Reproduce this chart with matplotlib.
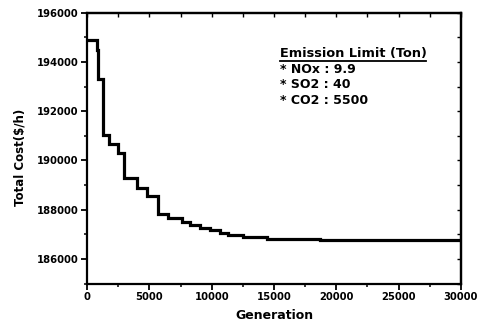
import matplotlib
matplotlib.use("Agg")
import matplotlib.pyplot as plt
from matplotlib.ticker import MultipleLocator

# Data (generation, total cost held from that generation on)
generation = [0, 780, 880, 1243, 1764, 2486, 2967, 4010, 4812, 5694, 6496, 7619,
              8260, 9063, 9865, 10667, 11308, 12511, 14436, 15719, 18687, 22456, 30000]
total_cost = [194900, 194500, 193300, 191020, 190650, 190300, 189300, 188870, 188550,
              187820, 187660, 187500, 187380, 187255, 187175, 187070, 186970, 186890,
              186810, 186790, 186770, 186750, 186750]

x_ticks = [0, 5000, 10000, 15000, 20000, 25000, 30000]
y_ticks = [186000, 188000, 190000, 192000, 194000, 196000]
legend_title = "Emission Limit (Ton)"
legend_lines = ["* NOx : 9.9", "* SO2 : 40", "* CO2 : 5500"]

plt.rcParams['font.family'] = ['DejaVu Sans']
plt.rcParams['font.weight'] = 'bold'

fig = plt.figure(figsize=(4.81, 3.24), dpi=100)
ax = fig.add_axes([0.1809, 0.125, 0.9584 - 0.1809, 0.961 - 0.125])

ax.plot(generation, total_cost, drawstyle='steps-post', color='black', lw=2.3,
        solid_joinstyle='miter')

ax.set_xlim(0, 30000)
ax.set_ylim(185000, 196000)
ax.set_xticks(x_ticks)
ax.set_yticks(y_ticks)
ax.xaxis.set_minor_locator(MultipleLocator(2500))
ax.yaxis.set_minor_locator(MultipleLocator(1000))
ax.set_xticklabels([str(v) for v in x_ticks], fontsize=7.2, fontweight='bold')
ax.set_yticklabels([str(v) for v in y_ticks], fontsize=7.2, fontweight='bold')

for s in ax.spines.values():
    s.set_linewidth(1.6)
ax.tick_params(which='major', direction='out', length=4, width=1.3, pad=2)
ax.tick_params(which='minor', direction='out', length=2.5, width=1.1)

secx = ax.secondary_xaxis('top')
secx.set_xticks(x_ticks)
secx.xaxis.set_minor_locator(MultipleLocator(2500))
secx.tick_params(which='both', direction='in', labeltop=False, length=3, width=1.0)
secx.spines['top'].set_linewidth(1.6)
secy = ax.secondary_yaxis('right')
secy.set_yticks(y_ticks)
secy.yaxis.set_minor_locator(MultipleLocator(1000))
secy.tick_params(which='both', direction='in', labelright=False, length=3, width=1.0)
secy.spines['right'].set_linewidth(1.6)

ax.set_xlabel("Generation", fontsize=9, fontweight='bold', labelpad=5)
ax.set_ylabel("Total Cost($/h)", fontsize=8.5, fontweight='bold')
ax.yaxis.set_label_coords(-0.163, 0.464)

t = ax.text(0.515, 0.835, legend_title, transform=ax.transAxes, fontsize=9.3,
            fontweight='bold', va='baseline', ha='left')
fig.canvas.draw()
bb = t.get_window_extent().transformed(ax.transAxes.inverted())
ax.plot([bb.x0, bb.x1], [bb.y0 - 0.004, bb.y0 - 0.004], transform=ax.transAxes,
        color='black', lw=1.3, clip_on=False)
for i, line in enumerate(legend_lines):
    ax.text(0.515, 0.778 - i * 0.058, line, transform=ax.transAxes, fontsize=9,
            fontweight='bold', va='baseline', ha='left')

fig.savefig("out.png", dpi=100)
